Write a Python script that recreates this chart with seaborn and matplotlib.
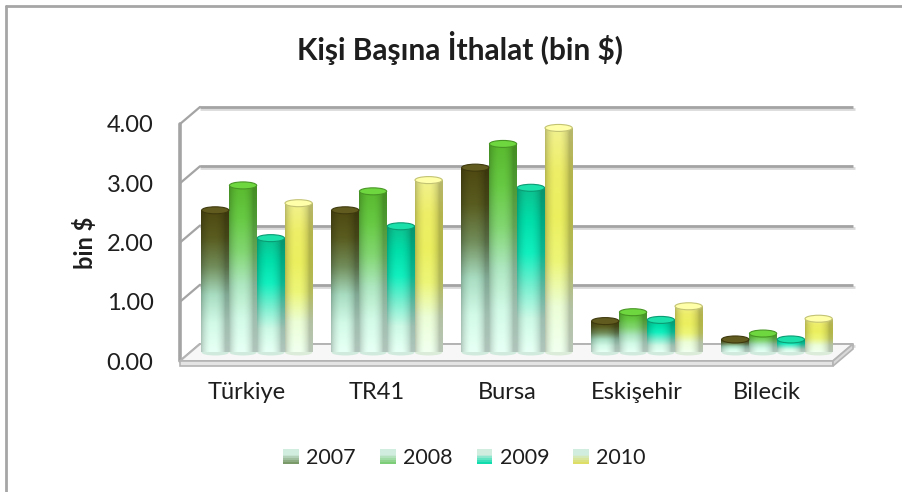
import numpy as np
import pandas as pd
import seaborn as sns
import matplotlib.pyplot as plt
from matplotlib.patches import Rectangle, Ellipse, Polygon
from matplotlib.lines import Line2D
from matplotlib.colors import LinearSegmentedColormap, to_rgb
from matplotlib.legend_handler import HandlerBase

# Per-capita imports (thousand $)
regions = ["Türkiye", "TR41", "Bursa", "Eskişehir", "Bilecik"]
years = ["2007", "2008", "2009", "2010"]
imp_2007 = [2.40, 2.40, 3.12, 0.53, 0.22]
imp_2008 = [2.82, 2.72, 3.52, 0.68, 0.32]
imp_2009 = [1.93, 2.13, 2.78, 0.55, 0.22]
imp_2010 = [2.52, 2.91, 3.79, 0.78, 0.57]
y_ticks = [0, 1, 2, 3, 4]

title = "Kişi Başına İthalat (bin $)"
y_label = "bin $"

series = [imp_2007, imp_2008, imp_2009, imp_2010]
df = pd.DataFrame(
    [(r, y, v) for y, vals in zip(years, series) for r, v in zip(regions, vals)],
    columns=["region", "year", "value"],
)

# vertical colour ramps, top -> bottom, for each year
ramps = {
    "2007": ["#4a4410", "#55581e", "#6c8656", "#a0d2b8", "#c8eedc", "#dcf6ea"],
    "2008": ["#55b02c", "#62c040", "#7ccc6c", "#a6dcb8", "#c8eedc", "#dcf6ea"],
    "2009": ["#0cb888", "#00d4a2", "#10e4b6", "#70e4c6", "#c4eedc", "#dcf6ea"],
    "2010": ["#e6e688", "#e2e262", "#e0e45a", "#e2ea72", "#e0f2cc", "#e6f8e4"],
}
legend_base = {"2007": "#7a9a6a", "2008": "#7ccc78", "2009": "#10dcae", "2010": "#dede66"}

sns.set_theme(style="white")
plt.rcParams["font.family"] = ["Lato", "DejaVu Sans"]
text_color = "#1e1e1e"

W, H = 902, 492
fig = plt.figure(figsize=(W / 100, H / 100), dpi=100)
fig.patch.set_facecolor("white")

# front plane of the plot box in pixels
px_left, px_right, px_bottom, px_top = 180, 833, 361, 124
ax = fig.add_axes([px_left / W, (H - px_bottom) / H,
                   (px_right - px_left) / W, (px_bottom - px_top) / H])
ax.set_facecolor("none")

sns.barplot(data=df, x="region", y="value", hue="year", order=regions,
            hue_order=years, palette=legend_base, width=0.855, saturation=1,
            legend=False, ax=ax, linewidth=0)

x0, x1 = -0.515, 4.508
ax.set_xlim(x0, x1)
ax.set_ylim(0, 4)
dxp = (x1 - x0) / (px_right - px_left)   # data units per pixel
dyp = 4 / (px_bottom - px_top)
depth_x, depth_y = 20 * dxp, 17 * dyp     # back wall offset

# back wall gridlines and side wall diagonals
grid_c = "#a4a4a4"
for t in y_ticks:
    ax.plot([x0 + depth_x, x1 + depth_x + 2 * dxp], [t + depth_y - 2 * dyp] * 2,
            color="#dadada", lw=2, clip_on=False, zorder=0.4,
            solid_capstyle="butt")
    ax.plot([x0 + depth_x, x1 + depth_x], [t + depth_y] * 2, color=grid_c,
            lw=2, clip_on=False, zorder=0.5, solid_capstyle="butt")
    ax.plot([x0, x0 + depth_x], [t, t + depth_y], color=grid_c, lw=1.6,
            clip_on=False, zorder=0.5)
ax.plot([x0, x0], [0, 4], color=grid_c, lw=2.6, clip_on=False, zorder=0.6)

# floor slab
slab = 5 * dyp
floor_top = Polygon([(x0, 0), (x1, 0), (x1 + depth_x, depth_y),
                     (x0 + depth_x, depth_y)], closed=True,
                    facecolor="#f7f7f7", edgecolor="#b4b4b4", lw=1.4,
                    clip_on=False, zorder=0.8)
floor_front = Polygon([(x0, 0), (x1, 0), (x1, -slab), (x0, -slab)],
                      closed=True, facecolor="#e4e4e4", edgecolor="#b4b4b4",
                      lw=1.2, clip_on=False, zorder=0.8)
floor_side = Polygon([(x1, 0), (x1 + depth_x, depth_y),
                      (x1 + depth_x, depth_y - slab), (x1, -slab)],
                     closed=True, facecolor="#d8d8d8", edgecolor="#b4b4b4",
                     lw=1.2, clip_on=False, zorder=0.8)
for p in (floor_top, floor_front, floor_side):
    ax.add_patch(p)

# cylinder shading across the bar width
u = np.linspace(0, 1, 48)
shade = 0.80 + 0.26 * np.clip(np.sin(np.pi * np.clip(u * 1.15, 0, 1)), 0, 1) ** 0.7
shade = np.clip(shade, 0, 1.05)

for year, cont in zip(years, ax.containers):
    cmap = LinearSegmentedColormap.from_list(year, ramps[year])
    col = cmap(np.linspace(0, 1, 160))[:, :3]
    img = np.clip(col[:, None, :] * shade[None, :, None], 0, 1)
    top_rgb = np.array(cmap(0.0)[:3])
    for bar in cont:
        bar.set_x(bar.get_x() + 10 * dxp)
        bar.set_y(bar.get_y() + 8.5 * dyp)
        bar.set_facecolor("none")
        bx, by, bw, bh = bar.get_x(), bar.get_y(), bar.get_width(), bar.get_height()
        im = ax.imshow(img, extent=(bx, bx + bw, by, by + bh), aspect="auto",
                       origin="upper", zorder=2, interpolation="bilinear")
        im.set_clip_path(bar)
        cap = Ellipse((bx + bw / 2, by + bh), bw * 0.98, 7 * dyp,
                      facecolor=np.clip(top_rgb * 1.15 + 0.05, 0, 1),
                      edgecolor=np.clip(top_rgb * 0.85, 0, 1), lw=0.8,
                      zorder=3, clip_on=False)
        ax.add_patch(cap)
        bottom = Ellipse((bx + bw / 2, by), bw * 0.98, 6 * dyp,
                         facecolor=np.array(cmap(1.0)[:3]) * 0.95,
                         edgecolor="none", zorder=1.9, clip_on=False)
        ax.add_patch(bottom)

ax.set_xlim(x0, x1)
ax.set_ylim(0, 4)
ax.set_yticks(y_ticks)
ax.set_yticklabels([f"{t:.2f}" for t in y_ticks])
ax.set_xticks(range(len(regions)))
ax.set_xticklabels(regions)
ax.tick_params(axis="y", length=0, pad=19, labelsize=17, labelcolor=text_color)
ax.tick_params(axis="x", length=0, pad=15, labelsize=17, labelcolor=text_color)
ax.set_xlabel("")
ax.set_ylabel("")
for s in ax.spines.values():
    s.set_visible(False)
ax.grid(False)

fig.text(85 / W, 1 - 243 / H, y_label, rotation=90, ha="center", va="center",
         fontsize=17, fontweight="bold", color=text_color)
fig.text(460 / W, 1 - 48 / H, title, ha="center", va="center",
         fontsize=21.5, fontweight="bold", color=text_color)

# chart area border (left and top edges)
fig.add_artist(Line2D([6 / W, 6 / W], [0, 1 - 6 / H], color="#a6a6a6", lw=2))
fig.add_artist(Line2D([6 / W, 1], [1 - 6 / H, 1 - 6 / H], color="#a6a6a6", lw=2))


class GradientSquare(HandlerBase):
    def create_artists(self, legend, orig_handle, xdescent, ydescent, width,
                       height, fontsize, trans):
        base = np.array(to_rgb(orig_handle.get_facecolor()))
        light = np.array([0.82, 0.93, 0.88])
        n = 8
        arts = []
        for i in range(n):
            f = i / (n - 1)
            w = np.clip((1 - f) - 0.35, 0, 1) / 0.65
            c = light * (1 - w) + base * w
            arts.append(Rectangle((-xdescent, -ydescent + height * i / n),
                                  width, height / n + 0.3, facecolor=c,
                                  edgecolor="none", transform=trans))
        return arts


handles = [Rectangle((0, 0), 1, 1, facecolor=legend_base[y]) for y in years]
fig.legend(handles, years, loc="center", bbox_to_anchor=(464.5 / W, 1 - 458 / H),
           ncol=4, frameon=False, fontsize=15.5, handlelength=0.74,
           handleheight=0.7, handletextpad=0.33, columnspacing=1.12,
           borderpad=0, borderaxespad=0,
           handler_map={Rectangle: GradientSquare()}, labelcolor=text_color)

fig.savefig("out.png", dpi=100, facecolor="white")
